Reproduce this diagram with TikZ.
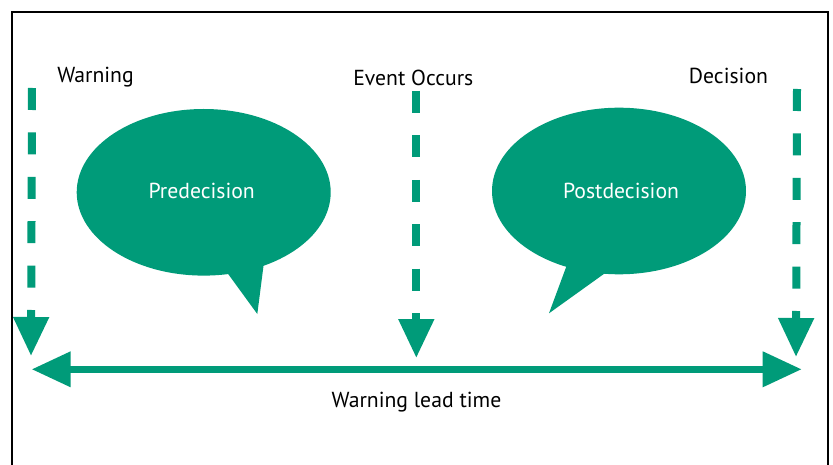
\documentclass[tikz,border=0pt]{standalone}
\usepackage{fontspec}
\setmainfont{PT Sans}
\usetikzlibrary{arrows.meta}
\definecolor{teal}{RGB}{0,155,121}
\tikzset{
  label/.style={font=\fontsize{21.7}{25}\selectfont, text=black, inner sep=0pt, anchor=base},
  bubbletext/.style={font=\fontsize{21.7}{25}\selectfont, text=white, inner sep=0pt, anchor=base},
  bubble/.style={fill=teal, draw=none},
  droparrow/.style={draw=teal, line width=8pt, dash pattern=on 22pt off 22.4pt,
    -{Triangle[width=34pt,length=39pt]}},
  spanarrow/.style={draw=teal, line width=7pt,
    {Triangle[width=34pt,length=39pt]}-{Triangle[width=34pt,length=39pt]}},
  frame/.style={draw=black, line width=2.3pt}
}
\begin{document}
\begin{tikzpicture}[x=1pt,y=-1pt]
\useasboundingbox (0,0) rectangle (833,465);
\fill[white] (0,0) rectangle (833,465);
% open frame
\draw[frame] (12.2,466) -- (12.2,12.2) -- (828.3,12.2) -- (828.3,466);

% speech bubbles
\fill[bubble] (203.7,192.3) ellipse [x radius=127, y radius=83.3];
\fill[bubble] (226.7,272) -- (257.3,314) -- (264,262) -- cycle;
\fill[bubble] (619,191) ellipse [x radius=127, y radius=83.3];
\fill[bubble] (568,262) -- (549,313.3) -- (608,271) -- cycle;

\node[bubbletext] (pre) at (201.7,198.3) {Predecision};
\node[bubbletext] (post) at (621,198.3) {Postdecision};

% milestone labels
\node[label] (warn) at (95.5,82.3) {Warning};
\node[label] (event) at (413.3,86) {Event Occurs};
\node[label] (dec) at (728.5,83.3) {Decision};
\node[label] (lead) at (416.5,407.7) {Warning lead time};

% arrow end points
\coordinate (warnTop) at (32,88);
\coordinate (warnEnd) at (31,356);
\coordinate (eventTop) at (416.3,91);
\coordinate (eventEnd) at (416.3,358);
\coordinate (decTop) at (797,89);
\coordinate (decEnd) at (796,357);
\coordinate (spanL) at (31.7,369.3);
\coordinate (spanR) at (801.7,369.3);

\draw[droparrow] (warnTop) -- (warnEnd);
\draw[droparrow] (eventTop) -- (eventEnd);
\draw[droparrow] (decTop) -- (decEnd);
\draw[spanarrow] (spanL) -- (spanR);
\end{tikzpicture}
\end{document}
